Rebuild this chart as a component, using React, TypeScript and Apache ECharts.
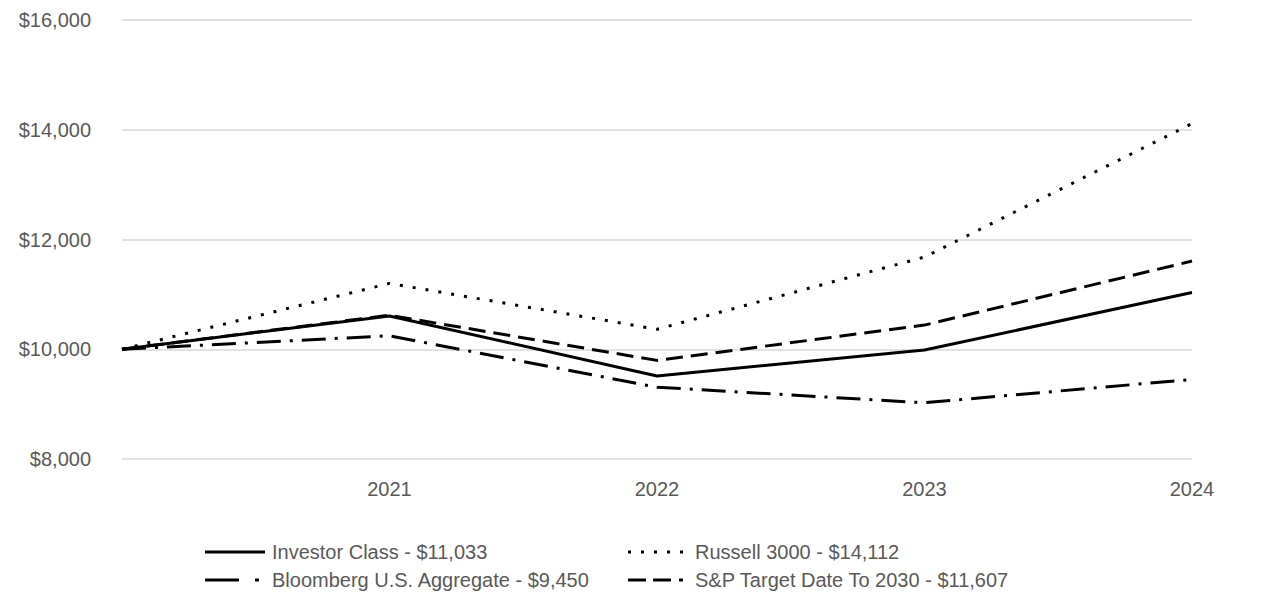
import React, { useEffect, useRef } from "react";
import * as echarts from "echarts";

const categories = ["2020", "2021", "2022", "2023", "2024"];
const tickLabels = ["", "2021", "2022", "2023", "2024"];
const investorClass = [10000, 10606, 9513, 9986, 11033];
const russell3000 = [10000, 11200, 10364, 11680, 14112];
const bloomberg = [10000, 10246, 9308, 9025, 9450];
const spTarget2030 = [10000, 10620, 9797, 10440, 11607];

const seriesNames = [
  "Investor Class - $11,033",
  "Russell 3000 - $14,112",
  "Bloomberg U.S. Aggregate - $9,450",
  "S&P Target Date To 2030 - $11,607",
];

const dashes: any[] = ["solid", [3, 10], [24, 9, 3, 9], [17, 8]];

const FONT = '"Liberation Sans Narrow", "Arial Narrow", "Liberation Sans", sans-serif';

export default function App() {
  const ref = useRef<HTMLDivElement>(null);
  useEffect(() => {
    if (!ref.current) return;
    const chart = echarts.init(ref.current, undefined, { renderer: "svg" });
    const mk = (name: string, data: number[], type: any) => ({
      name,
      type: "line",
      data,
      symbol: "none",
      lineStyle: { color: "#000", width: 3, type },
      itemStyle: { color: "#000" },
    });
    const legendPos = [
      { x: 205, y: 552 },
      { x: 628, y: 552 },
      { x: 205, y: 580 },
      { x: 628, y: 580 },
    ];
    const legendDash = [null, [3, 10], [34, 16, 4, 10], [18, 7, 18, 8, 4, 8]];
    const graphic: any[] = [];
    seriesNames.forEach((name, i) => {
      const p = legendPos[i];
      graphic.push({
        type: "line",
        shape: { x1: p.x, y1: p.y, x2: p.x + 60, y2: p.y },
        style: { stroke: "#000", lineWidth: 3, lineDash: legendDash[i] },
      });
      graphic.push({
        type: "text",
        x: p.x + 67,
        y: p.y,
        style: {
          text: name,
          fill: "#595959",
          fontSize: 20,
          fontFamily: FONT,
          verticalAlign: "middle",
        },
      });
    });
    chart.setOption({
      animation: false,
      textStyle: { fontFamily: FONT },
      grid: { left: 122, right: 94, top: 20, bottom: 155 },
      graphic,
      xAxis: {
        type: "category",
        data: categories,
        boundaryGap: false,
        axisLine: { show: false },
        axisTick: { show: false },
        axisLabel: {
          color: "#595959",
          fontSize: 20,
          fontFamily: FONT,
          margin: 20,
          formatter: (_v: string, i: number) => tickLabels[i],
        },
        splitLine: { show: false },
      },
      yAxis: {
        type: "value",
        min: 8000,
        max: 16000,
        interval: 2000,
        axisLine: { show: false },
        axisTick: { show: false },
        axisLabel: {
          color: "#595959",
          fontSize: 20,
          fontFamily: FONT,
          margin: 31,
          formatter: (v: number) => "$" + v.toLocaleString("en-US"),
        },
        splitLine: { lineStyle: { color: "#d9d9d9", width: 1.5 } },
      },
      series: [
        mk(seriesNames[0], investorClass, dashes[0]),
        mk(seriesNames[1], russell3000, dashes[1]),
        mk(seriesNames[2], bloomberg, dashes[2]),
        mk(seriesNames[3], spTarget2030, dashes[3]),
      ],
    });
    return () => chart.dispose();
  }, []);
  return <div ref={ref} style={{ width: 1286, height: 614, margin: -8 }} />;
}
